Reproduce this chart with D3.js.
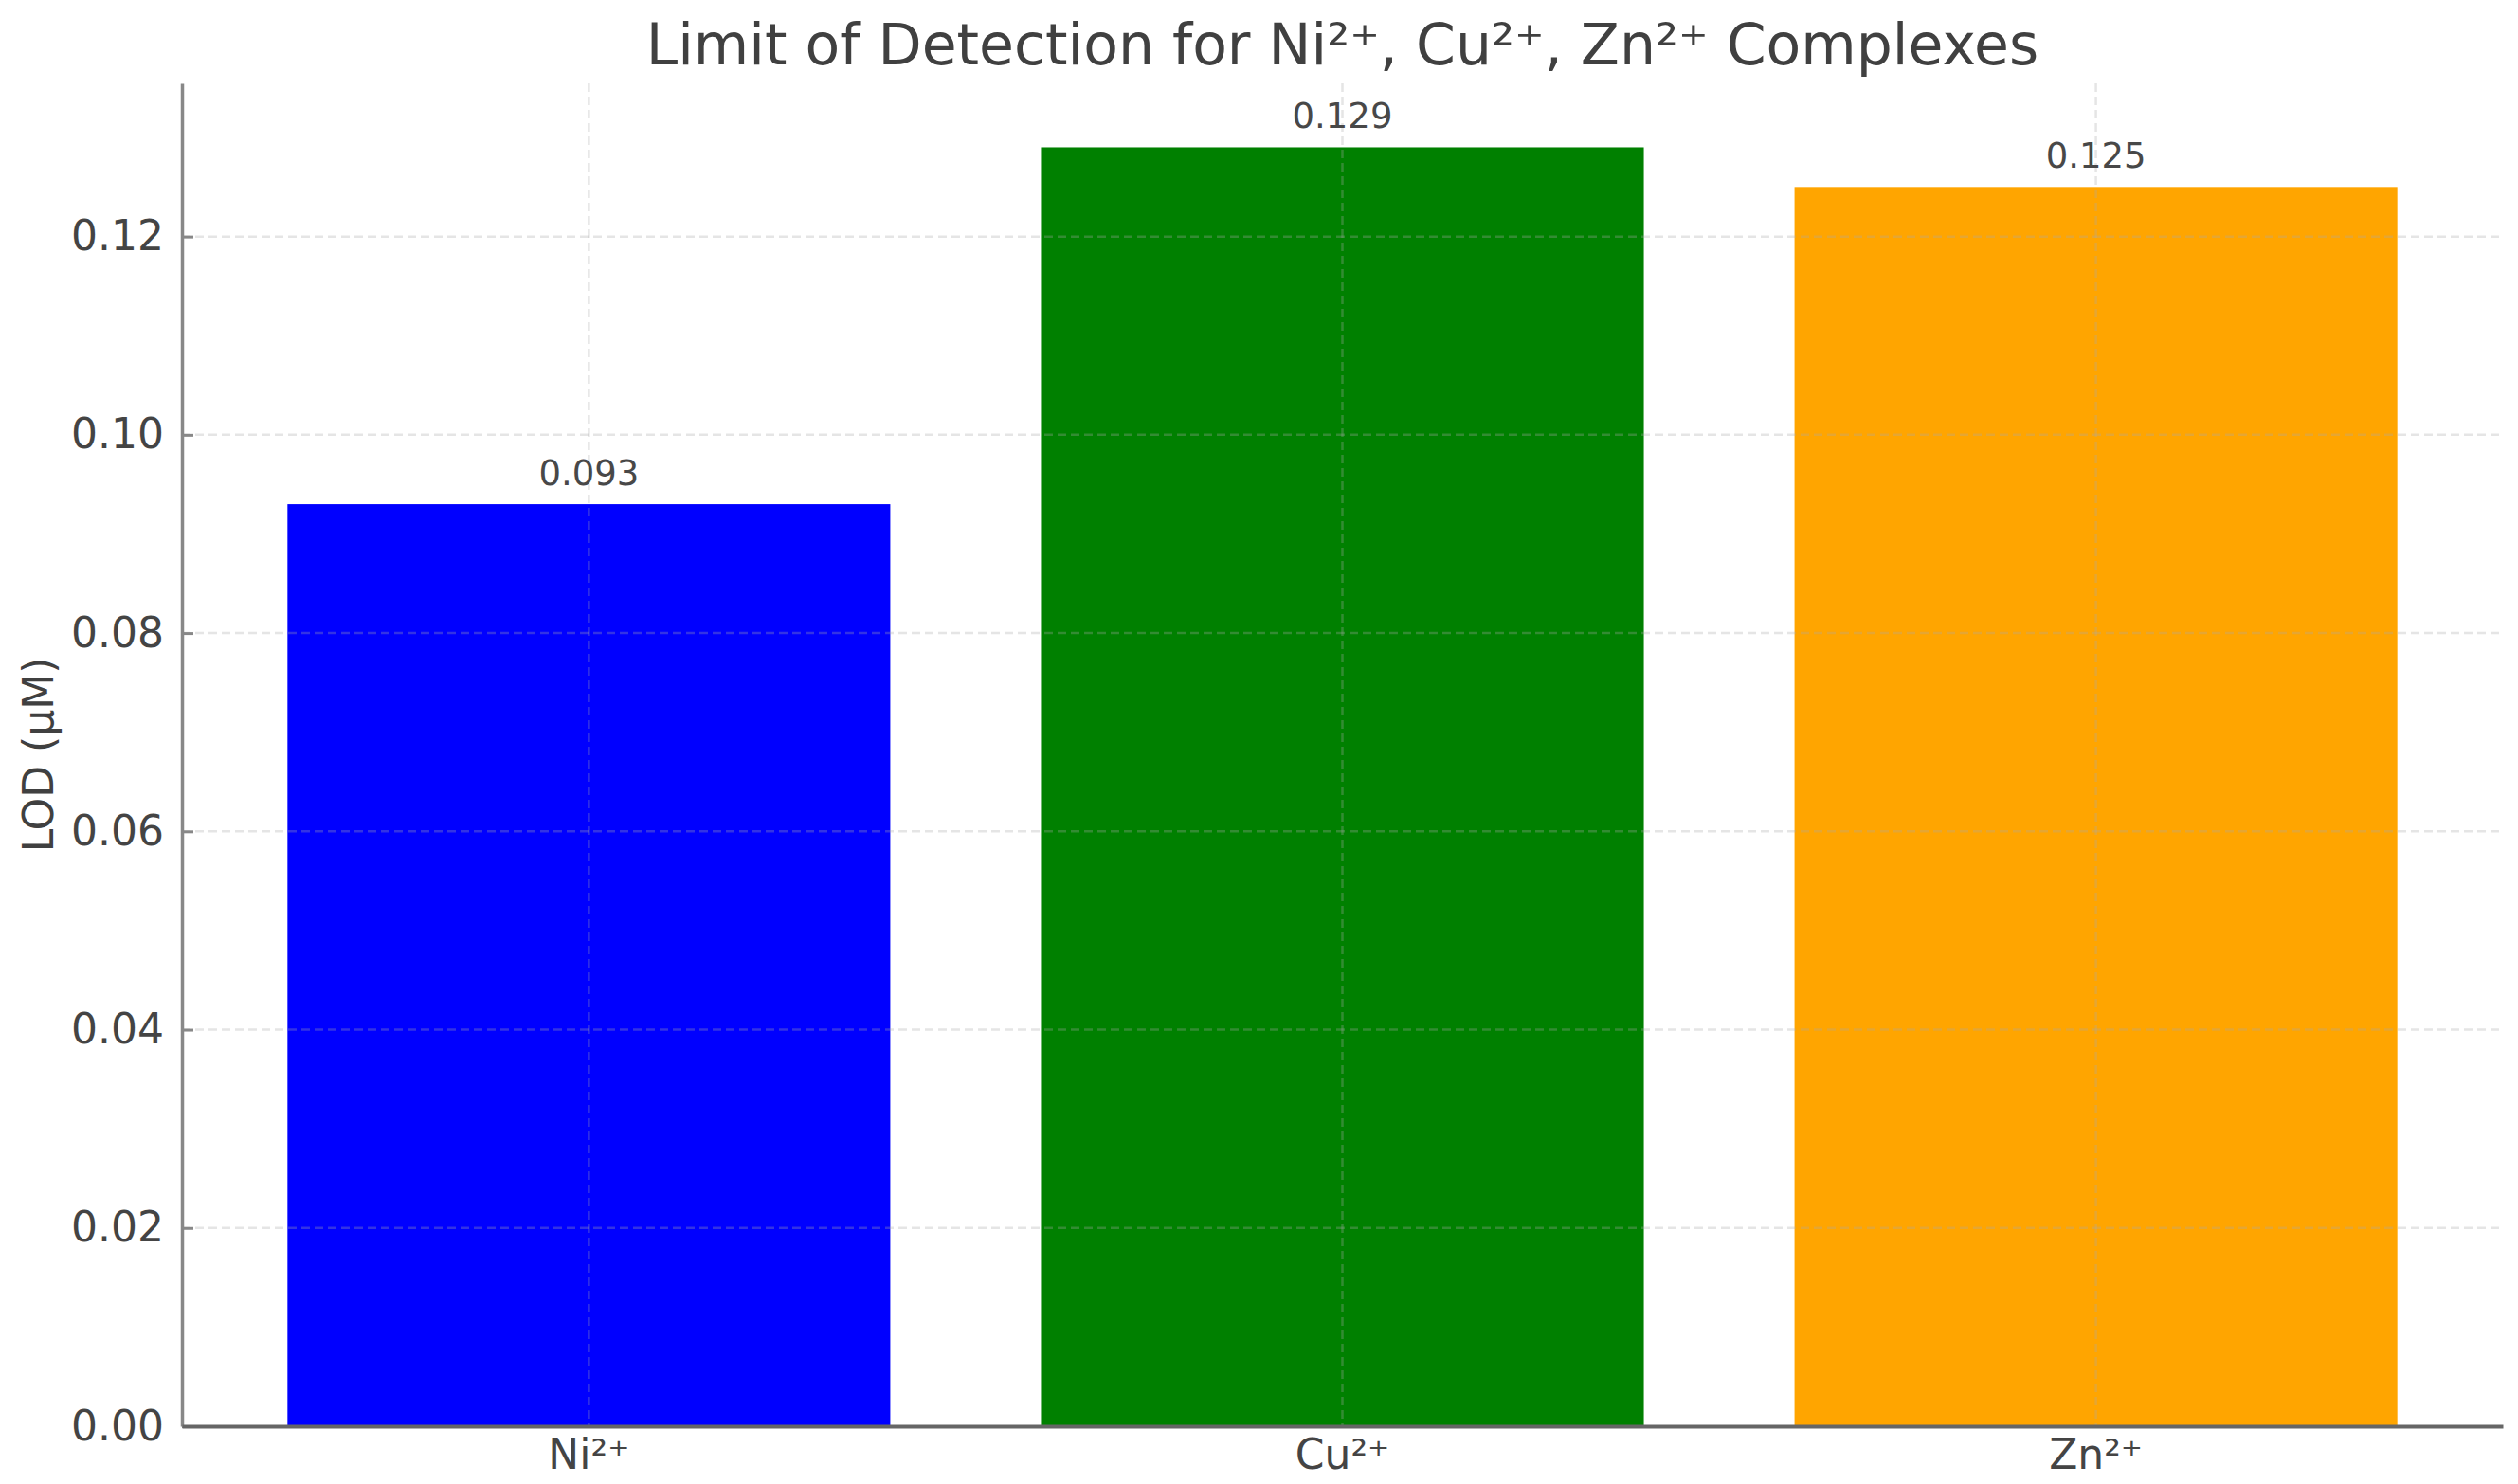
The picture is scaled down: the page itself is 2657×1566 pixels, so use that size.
<!DOCTYPE html>
<html>
<head>
<meta charset="utf-8">
<script src="https://cdn.jsdelivr.net/npm/d3@7"></script>
<style>
  html, body { margin: 0; padding: 0; background: #ffffff; }
  svg { display: block; }
  text { font-family: "DejaVu Sans", sans-serif; }
</style>
</head>
<body>
<script>
const categories = ["Ni²⁺", "Cu²⁺", "Zn²⁺"];
const lodValues = [0.093, 0.129, 0.125];
const barColors = ["#0000ff", "#008000", "#ffa500"];
const yTicks = [0.00, 0.02, 0.04, 0.06, 0.08, 0.10, 0.12];
const valueLabels = ["0.093", "0.129", "0.125"];
const titleText = "Limit of Detection for Ni²⁺, Cu²⁺, Zn²⁺ Complexes";
const yLabelText = "LOD (μM)";

const W = 2657, H = 1566;
const margin = { left: 192, right: 2641, top: 88, bottom: 1505 };

const svg = d3.select("body").append("svg").attr("width", W).attr("height", H);

const x = d3.scaleBand().domain(categories).range([margin.left, margin.right])
  .paddingInner(0.2).paddingOuter(0.14);
const yMax = d3.max(lodValues) * 1.05;
const y = d3.scaleLinear().domain([0, yMax]).range([margin.bottom, margin.top]);

// bars
svg.append("g").selectAll("rect").data(categories).join("rect")
  .attr("x", d => x(d))
  .attr("width", x.bandwidth())
  .attr("y", (d, i) => y(lodValues[i]))
  .attr("height", (d, i) => y(0) - y(lodValues[i]))
  .attr("fill", (d, i) => barColors[i]);

// grid (on top of bars)
const grid = svg.append("g").attr("stroke", "#a8a8a8").attr("stroke-opacity", 0.3)
  .attr("stroke-width", 2.5).attr("stroke-dasharray", "9,5");
grid.selectAll("line.h").data(yTicks.slice(1)).join("line").attr("class", "h")
  .attr("x1", margin.left).attr("x2", margin.right)
  .attr("y1", d => y(d)).attr("y2", d => y(d));
grid.selectAll("line.v").data(categories).join("line").attr("class", "v")
  .attr("x1", d => x(d) + x.bandwidth() / 2).attr("x2", d => x(d) + x.bandwidth() / 2)
  .attr("y1", margin.top).attr("y2", margin.bottom);

// y axis
const yAxis = d3.axisLeft(y).tickValues(yTicks).tickFormat(d3.format(".2f"))
  .tickSizeInner(-12).tickSizeOuter(0).tickPadding(19);
const gy = svg.append("g").attr("transform", `translate(${margin.left},0)`).call(yAxis);
gy.select(".domain").attr("stroke", "#888").attr("stroke-width", 3.5);
gy.selectAll(".tick line").attr("stroke", "#888").attr("stroke-width", 3);
gy.selectAll(".tick text").attr("font-size", 44).attr("fill", "#444")
  .attr("font-family", "DejaVu Sans, sans-serif");

// x axis
const xAxis = d3.axisBottom(x).tickSize(0).tickPadding(14);
const gx = svg.append("g").attr("transform", `translate(0,${margin.bottom})`).call(xAxis);
gx.select(".domain").attr("stroke", "#666").attr("stroke-width", 4);
gx.selectAll(".tick text").attr("font-size", 44).attr("fill", "#444")
  .attr("font-family", "DejaVu Sans, sans-serif");

// value labels
svg.append("g").selectAll("text").data(categories).join("text")
  .attr("x", d => x(d) + x.bandwidth() / 2)
  .attr("y", (d, i) => y(lodValues[i]) - 20)
  .attr("text-anchor", "middle")
  .attr("font-size", 37).attr("fill", "#484848")
  .text((d, i) => valueLabels[i]);

// title
svg.append("text").attr("x", (margin.left + margin.right) / 2).attr("y", 68)
  .attr("text-anchor", "middle").attr("font-size", 60).attr("fill", "#404040")
  .text(titleText);

// y label
svg.append("text").attr("transform", `translate(56,${(margin.top + margin.bottom) / 2}) rotate(-90)`)
  .attr("text-anchor", "middle").attr("font-size", 44).attr("fill", "#404040")
  .text(yLabelText);
</script>
</body>
</html>
